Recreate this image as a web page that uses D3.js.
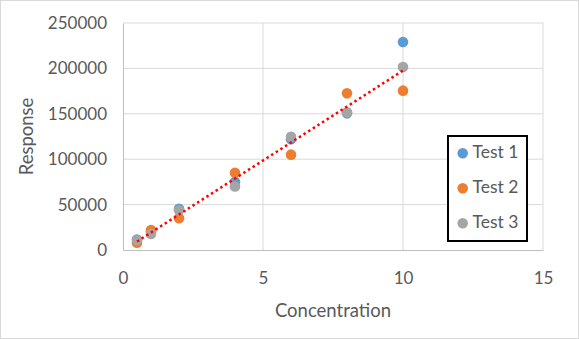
<!DOCTYPE html>
<html><head><meta charset="utf-8">
<script src="https://cdn.jsdelivr.net/npm/d3@7"></script>
<style>body{margin:0;background:#fff}svg{display:block}text{font-family:"Lato","Open Sans",sans-serif;fill:#595959}</style>
</head><body><svg id="c" width="579" height="339"></svg>
<script>
const concentrations = [0.5, 1, 2, 4, 6, 8, 10];
const test1 = [11500, 20000, 45500, 75000, 122000, 150500, 229000];
const test2 = [8000, 22000, 35000, 85000, 105000, 172500, 175500];
const test3 = [11000, 17600, 43800, 70000, 124800, 151600, 201500];
const seriesNames = ["Test 1", "Test 2", "Test 3"];
const colors = ["#5B9BD5", "#ED7D31", "#A5A5A5"];
const xTicks = [0, 5, 10, 15];
const yTicks = [0, 50000, 100000, 150000, 200000, 250000];

const svg = d3.select("#c");
svg.append("rect").attr("x",0.5).attr("y",0.5).attr("width",578).attr("height",338)
  .attr("fill","#fff").attr("stroke","#d9d9d9");

const x = d3.scaleLinear().domain([0,15]).range([123,543]);
const y = d3.scaleLinear().domain([0,250000]).range([250,23]);

// gridlines
svg.append("g").selectAll("line").data(yTicks.slice(1)).join("line")
  .attr("x1",x(0)).attr("x2",x(15)).attr("y1",d=>y(d)).attr("y2",d=>y(d))
  .attr("stroke","#d9d9d9").attr("stroke-width",1);
svg.append("g").selectAll("line").data(xTicks.slice(1)).join("line")
  .attr("y1",y(0)).attr("y2",y(250000)).attr("x1",d=>x(d)).attr("x2",d=>x(d))
  .attr("stroke","#d9d9d9").attr("stroke-width",1);

// axes
const xAxis = svg.append("g").attr("transform",`translate(0,${y(0)})`)
  .call(d3.axisBottom(x).tickValues(xTicks).tickSize(0));
xAxis.select(".domain").attr("stroke","#bfbfbf");
xAxis.selectAll(".tick text").attr("y",28).attr("dy","0.36em");
const yAxis = svg.append("g").attr("transform",`translate(${x(0)},0)`)
  .call(d3.axisLeft(y).tickValues(yTicks).tickSize(0).tickPadding(16).tickFormat(d3.format("d")));
yAxis.select(".domain").attr("stroke","#bfbfbf");
svg.selectAll(".tick text").attr("font-size",17).attr("fill","#595959")
  .style("font-family",'"Lato","Open Sans",sans-serif');

svg.append("text").attr("x",x(7.5)).attr("y",312).attr("text-anchor","middle")
  .attr("dominant-baseline","middle").attr("font-size",18.5).text("Concentration");
svg.append("text").attr("transform",`translate(28,${y(125000)}) rotate(-90)`)
  .attr("text-anchor","middle").attr("dominant-baseline","middle").attr("font-size",18.5).text("Response");

// points
const all = [test1, test2, test3];
all.forEach((vals,i)=>{
  svg.append("g").selectAll("circle").data(vals).join("circle")
    .attr("cx",(d,j)=>x(concentrations[j])).attr("cy",d=>y(d))
    .attr("r",5.3).attr("fill",colors[i]);
});

// linear trendline for Test 3
const mx = d3.mean(concentrations), my = d3.mean(test3);
let sxy=0, sxx=0;
concentrations.forEach((c,j)=>{sxy+=(c-mx)*(test3[j]-my); sxx+=(c-mx)*(c-mx);});
const slope = sxy/sxx, icpt = my - slope*mx;
const x0 = d3.min(concentrations), x1 = d3.max(concentrations);
svg.append("line").attr("x1",x(x0)).attr("y1",y(icpt+slope*x0))
  .attr("x2",x(x1)).attr("y2",y(icpt+slope*x1))
  .attr("stroke","#FF0000").attr("stroke-width",2.5).attr("stroke-dasharray","2.5,3");

// legend
const lg = svg.append("g");
lg.append("rect").attr("x",448).attr("y",136).attr("width",79).attr("height",105)
  .attr("fill","#fff").attr("stroke","#000").attr("stroke-width",2);
seriesNames.forEach((n,i)=>{
  const cy = 153.3 + i*35;
  lg.append("circle").attr("cx",462.7).attr("cy",cy).attr("r",5.3).attr("fill",colors[i]);
  lg.append("text").attr("x",472.5).attr("y",cy).attr("dominant-baseline","middle")
    .attr("font-size",17.5).text(n);
});
</script></body></html>
